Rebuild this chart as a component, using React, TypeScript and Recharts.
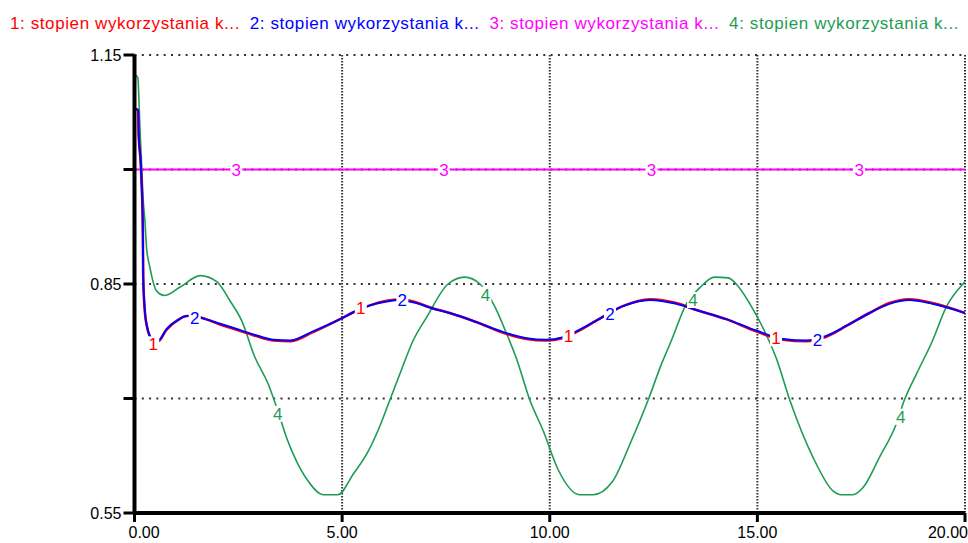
import React from "react";
import { ComposedChart, Line, Scatter, XAxis, YAxis, CartesianGrid } from "recharts";

const X_TICKS = [0, 5, 10, 15, 20];
const Y_TICKS = [0.55, 0.7, 0.85, 1.0, 1.15];
const Y_LABELED = [0.55, 0.85, 1.15];

const LEGEND = [
  "1: stopien wykorzystania k...",
  "2: stopien wykorzystania k...",
  "3: stopien wykorzystania k...",
  "4: stopien wykorzystania k...",
];
const COLORS = ["#ff0000", "#0000ff", "#ff00ff", "#1e9c54"];

// [t, value]
const S1: [number, number][] = [
  [0, 1.08], [0.09, 1.077], [0.1, 1.046], [0.15, 1.008], [0.17, 0.983], [0.2, 0.923],
  [0.21, 0.858], [0.25, 0.813], [0.3, 0.794], [0.37, 0.781], [0.45, 0.776], [0.57, 0.775],
  [0.77, 0.79], [1.05, 0.803], [1.26, 0.808], [1.45, 0.808], [1.65, 0.805], [2.06, 0.797],
  [2.46, 0.79], [2.86, 0.783], [3.34, 0.776], [3.74, 0.775], [4.3, 0.787], [4.95, 0.804],
  [5.27, 0.813], [5.67, 0.822], [6.07, 0.828], [6.4, 0.83], [6.71, 0.827], [7.19, 0.818],
  [7.59, 0.812], [8.24, 0.8], [8.88, 0.786], [9.44, 0.778], [9.92, 0.776], [10.3, 0.779],
  [10.64, 0.787], [11.12, 0.802], [11.76, 0.821], [12.41, 0.83], [13.05, 0.825], [13.53, 0.816],
  [14.25, 0.804], [14.97, 0.788], [15.61, 0.777], [16.18, 0.775], [16.66, 0.781], [17.14, 0.795],
  [17.7, 0.812], [18.18, 0.825], [18.66, 0.83], [19.22, 0.825], [20, 0.812],
];

const S2: [number, number][] = [
  [0, 1.08], [0.09, 1.078], [0.1, 1.048], [0.15, 1.01], [0.17, 0.985], [0.2, 0.925],
  [0.21, 0.86], [0.25, 0.815], [0.3, 0.795], [0.37, 0.782], [0.45, 0.777], [0.57, 0.776],
  [0.77, 0.791], [1.05, 0.803], [1.26, 0.808], [1.45, 0.808], [1.65, 0.805], [2.06, 0.798],
  [2.46, 0.791], [2.86, 0.784], [3.34, 0.777], [3.74, 0.776], [4.3, 0.788], [4.95, 0.804],
  [5.27, 0.813], [5.67, 0.822], [6.07, 0.827], [6.4, 0.829], [6.71, 0.826], [7.19, 0.818],
  [7.59, 0.812], [8.24, 0.8], [8.88, 0.787], [9.44, 0.779], [9.92, 0.777], [10.3, 0.78],
  [10.64, 0.788], [11.12, 0.802], [11.76, 0.821], [12.41, 0.829], [13.05, 0.824], [13.53, 0.816],
  [14.25, 0.804], [14.97, 0.789], [15.61, 0.778], [16.18, 0.776], [16.66, 0.782], [17.14, 0.795],
  [17.7, 0.812], [18.18, 0.824], [18.66, 0.829], [19.22, 0.824], [20, 0.812],
];

const S3: [number, number][] = [
  [0, 1.0], [20, 1.0],
];

const S4: [number, number][] = [
  [0, 1.125], [0.08, 1.12], [0.13, 1.056], [0.17, 1.008], [0.21, 0.96], [0.25, 0.933],
  [0.29, 0.898], [0.37, 0.872], [0.53, 0.841], [0.73, 0.835], [1.1, 0.846], [1.58, 0.861],
  [1.98, 0.853], [2.3, 0.828], [2.58, 0.802], [2.9, 0.754], [3.22, 0.719], [3.45, 0.684],
  [3.66, 0.649], [3.9, 0.618], [4.18, 0.592], [4.54, 0.574], [4.9, 0.574], [5.27, 0.601],
  [5.63, 0.631], [5.91, 0.664], [6.15, 0.698], [6.39, 0.732], [6.71, 0.776], [7.03, 0.806],
  [7.55, 0.85], [7.95, 0.859], [8.32, 0.85], [8.68, 0.82], [8.96, 0.785], [9.2, 0.752],
  [9.52, 0.698], [9.84, 0.658], [10.2, 0.607], [10.72, 0.574], [11.04, 0.574], [11.52, 0.592],
  [11.93, 0.64], [12.37, 0.698], [12.69, 0.745], [12.93, 0.776], [13.29, 0.824], [13.61, 0.845],
  [13.97, 0.859], [14.3, 0.858], [14.49, 0.85], [14.82, 0.824], [15.13, 0.793], [15.46, 0.752],
  [15.78, 0.698], [16.34, 0.623], [16.82, 0.579], [17.02, 0.574], [17.3, 0.574], [17.54, 0.583],
  [17.94, 0.623], [18.34, 0.666], [18.54, 0.698], [18.83, 0.732], [19.22, 0.776], [19.55, 0.82],
  [19.95, 0.85], [20, 0.853],
];

// line number marks drawn along each curve
const M1: [number, number][] = [[0.45, 0.771], [5.45, 0.818], [10.45, 0.782], [15.45, 0.779]];
const M2: [number, number][] = [[1.45, 0.806], [6.45, 0.829], [11.45, 0.811], [16.45, 0.777]];
const M3: [number, number][] = [[2.45, 1.0], [7.45, 1.0], [12.45, 1.0], [17.45, 1.0]];
const M4: [number, number][] = [[3.45, 0.68], [8.45, 0.836], [13.45, 0.829], [18.45, 0.676]];

const FONT = "'Liberation Sans', Arial, sans-serif";

const rows = (pts: [number, number][]) => pts.map(([t, v]) => ({ t, v }));

const marks = [M1, M2, M3, M4].flatMap((m, i) =>
  m.map(([t, v]) => ({ t, v, n: String(i + 1), c: COLORS[i] }))
);

const MarkShape = (props: any) => {
  const { cx, cy, payload } = props;
  return (
    <g>
      <rect x={cx - 6} y={cy - 8} width={12} height={16} fill="#fff" />
      <text x={cx} y={cy + 6} textAnchor="middle" fontFamily={FONT} fontSize={17} fill={payload.c}>
        {payload.n}
      </text>
    </g>
  );
};

const XTick = (props: any) => {
  const { x, payload } = props;
  const v = payload.value;
  let anchor: "start" | "middle" | "end" = "middle";
  let dx = 0;
  if (v === 0) {
    anchor = "start";
    dx = -6;
  }
  if (v === 20) {
    anchor = "end";
    dx = 3;
  }
  return (
    <text x={x + dx} y={538} textAnchor={anchor} fontFamily={FONT} fontSize={16} fill="#000">
      {v.toFixed(2)}
    </text>
  );
};

export default function App() {
  return (
    <div style={{ position: "absolute", left: 0, top: 0, width: 968, height: 543, background: "#fff" }}>
      <svg width={968} height={40} style={{ position: "absolute", left: 0, top: 0 }}>
        {LEGEND.map((s, i) => (
          <text
            key={i}
            x={10 + i * 239.7}
            y={29}
            fontFamily={FONT}
            fontSize={17}
            letterSpacing={0.6}
            fill={COLORS[i]}
          >
            {s}
          </text>
        ))}
      </svg>
      <ComposedChart
        width={968}
        height={543}
        margin={{ top: 55, right: 3, bottom: 0, left: 0 }}
        style={{ position: "absolute", left: 0, top: 0 }}
      >
        <CartesianGrid horizontal={true} vertical={false} stroke="#333" strokeWidth={2} strokeDasharray="2 5.3" />
        <CartesianGrid horizontal={false} vertical={true} stroke="#333" strokeWidth={2} strokeDasharray="1.5 1.5" />
        <XAxis
          type="number"
          dataKey="t"
          domain={[0, 20]}
          ticks={X_TICKS}
          allowDataOverflow
          height={30}
          axisLine={{ stroke: "#000", strokeWidth: 4 }}
          tickLine={{ stroke: "#000", strokeWidth: 3 }}
          tickSize={9}
          tick={<XTick />}
          interval={0}
        />
        <YAxis
          type="number"
          domain={[0.55, 1.15]}
          ticks={Y_TICKS}
          allowDataOverflow
          width={134.5}
          axisLine={{ stroke: "#000", strokeWidth: 4 }}
          tickLine={{ stroke: "#000", strokeWidth: 3 }}
          tickSize={11}
          tickMargin={2}
          interval={0}
          tick={{ fontFamily: FONT, fontSize: 16, fill: "#000" }}
          tickFormatter={(v: number) => (Y_LABELED.includes(v) ? v.toFixed(2) : "")}
        />
        <Line data={rows(S3)} dataKey="v" type="linear" stroke={COLORS[2]} strokeWidth={2} dot={false} isAnimationActive={false} />
        <Line data={rows(S4)} dataKey="v" type="monotone" stroke={COLORS[3]} strokeWidth={1.6} dot={false} isAnimationActive={false} />
        <Line data={rows(S1)} dataKey="v" type="monotone" stroke={COLORS[0]} strokeWidth={2.6} dot={false} isAnimationActive={false} />
        <Line data={rows(S2)} dataKey="v" type="monotone" stroke={COLORS[1]} strokeWidth={2} dot={false} isAnimationActive={false} />
        <Scatter data={marks} dataKey="v" shape={<MarkShape />} isAnimationActive={false} />
      </ComposedChart>
    </div>
  );
}
